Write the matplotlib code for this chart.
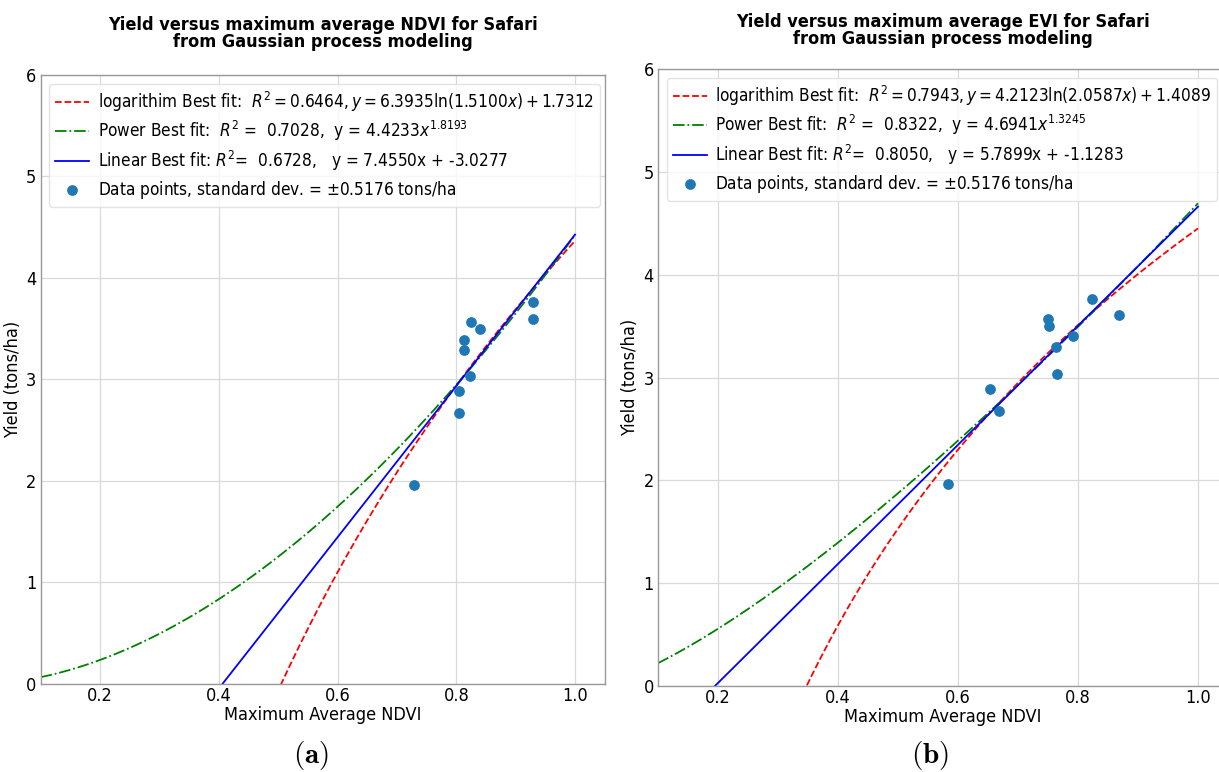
import numpy as np
import matplotlib
matplotlib.use("Agg")
import matplotlib.pyplot as plt

plt.rcParams['font.family'] = ['DejaVu Sans']
plt.rcParams['font.stretch'] = 'condensed'
plt.rcParams['mathtext.fontset'] = 'custom'
plt.rcParams['mathtext.rm'] = 'DejaVu Sans:stretch=condensed'
plt.rcParams['mathtext.it'] = 'DejaVu Sans:style=oblique:stretch=condensed'
plt.rcParams['mathtext.bf'] = 'DejaVu Sans:weight=bold:stretch=condensed'
plt.rcParams['mathtext.sf'] = 'DejaVu Sans:stretch=condensed'

# Data
yield_vals = [1.96, 2.89, 2.67, 3.39, 3.29, 3.57, 3.50, 3.03, 3.76, 3.60]
ndvi_x = [0.729, 0.804, 0.805, 0.813, 0.813, 0.824, 0.840, 0.823, 0.930, 0.930]
evi_x = [0.584, 0.653, 0.669, 0.791, 0.763, 0.750, 0.751, 0.765, 0.823, 0.868]
evi_y = [1.96, 2.89, 2.67, 3.40, 3.30, 3.57, 3.50, 3.03, 3.76, 3.61]

# Fit parameters (from legend)
ndvi_log = (6.3935, 1.5100, 1.7312)
ndvi_pow = (4.4233, 1.8193)
ndvi_lin = (7.4550, -3.0277)
evi_log = (4.2123, 2.0587, 1.4089)
evi_pow = (4.6941, 1.3245)
evi_lin = (5.7899, -1.1283)

labels_a = [r"logarithim Best fit:  $R^2 = 0.6464, y = 6.3935\ln(1.5100x) + 1.7312$",
            r"Power Best fit:  $R^2$ =  0.7028,  y = 4.4233$x^{1.8193}$",
            r"Linear Best fit: $R^2$=  0.6728,   y = 7.4550x + -3.0277",
            r"Data points, standard dev. = $\pm$0.5176 tons/ha"]
labels_b = [r"logarithim Best fit:  $R^2 = 0.7943, y = 4.2123\ln(2.0587x) + 1.4089$",
            r"Power Best fit:  $R^2$ =  0.8322,  y = 4.6941$x^{1.3245}$",
            r"Linear Best fit: $R^2$=  0.8050,   y = 5.7899x + -1.1283",
            r"Data points, standard dev. = $\pm$0.5176 tons/ha"]

titles = ["Yield versus maximum average NDVI for Safari\nfrom Gaussian process modeling",
          "Yield versus maximum average EVI for Safari\nfrom Gaussian process modeling"]

fig = plt.figure(figsize=(12.19, 7.72), dpi=100)
ax1 = fig.add_axes([0.0333, 0.114, 0.4628, 0.7889])
ax2 = fig.add_axes([0.5398, 0.1114, 0.4676, 0.7992])

xs = np.linspace(0.1, 1.0, 400)

def draw(ax, px, py, logp, powp, linp, labels, title, tpad):
    a, b, c = logp
    with np.errstate(all='ignore'):
        ax.plot(xs, a * np.log(b * xs) + c, 'r--', lw=1.3, label=labels[0])
    ax.plot(xs, powp[0] * xs ** powp[1], 'g-.', lw=1.3, label=labels[1])
    ax.plot(xs, linp[0] * xs + linp[1], 'b-', lw=1.3, label=labels[2])
    ax.scatter(px, py, s=45, color='#1f77b4', label=labels[3], zorder=3)
    ax.set_xlim(0.1, 1.05)
    ax.set_ylim(0, 6)
    ax.set_xticks([0.2, 0.4, 0.6, 0.8, 1.0])
    ax.set_xticklabels(["0.2", "0.4", "0.6", "0.8", "1.0"])
    ax.set_yticks([0, 1, 2, 3, 4, 5, 6])
    ax.tick_params(axis='x', length=0, labelsize=13, pad=2, colors='black')
    ax.tick_params(axis='y', length=0, labelsize=13, pad=3, colors='black')
    ax.grid(True, color='#d9d9d9', lw=0.9)
    ax.set_axisbelow(True)
    for s in ax.spines.values():
        s.set_color('#999999')
        s.set_linewidth(1.0)
    ax.set_xlabel("Maximum Average NDVI", fontsize=13, labelpad=1)
    ax.set_ylabel("Yield (tons/ha)", fontsize=13, labelpad=3)
    ax.set_title(title, fontsize=13, fontweight='bold', pad=tpad, linespacing=0.95)
    leg = ax.legend(loc='upper left', fontsize=12.3, frameon=True,
                    borderaxespad=0.5, handlelength=2.0, handletextpad=0.5,
                    labelspacing=0.33, borderpad=0.35)
    leg.get_frame().set_edgecolor('#dddddd')

draw(ax1, ndvi_x, yield_vals, ndvi_log, ndvi_pow, ndvi_lin, labels_a, titles[0], 20)
draw(ax2, evi_x, evi_y, evi_log, evi_pow, evi_lin, labels_b, titles[1], 18)

fig.text(311 / 1219, 1 - 755 / 772, r"$\mathbf{(a)}$", fontsize=21, ha='center', va='center',
         math_fontfamily='cm')
fig.text(930 / 1219, 1 - 755 / 772, r"$\mathbf{(b)}$", fontsize=21, ha='center', va='center',
         math_fontfamily='cm')

fig.savefig("out.png", dpi=100)
